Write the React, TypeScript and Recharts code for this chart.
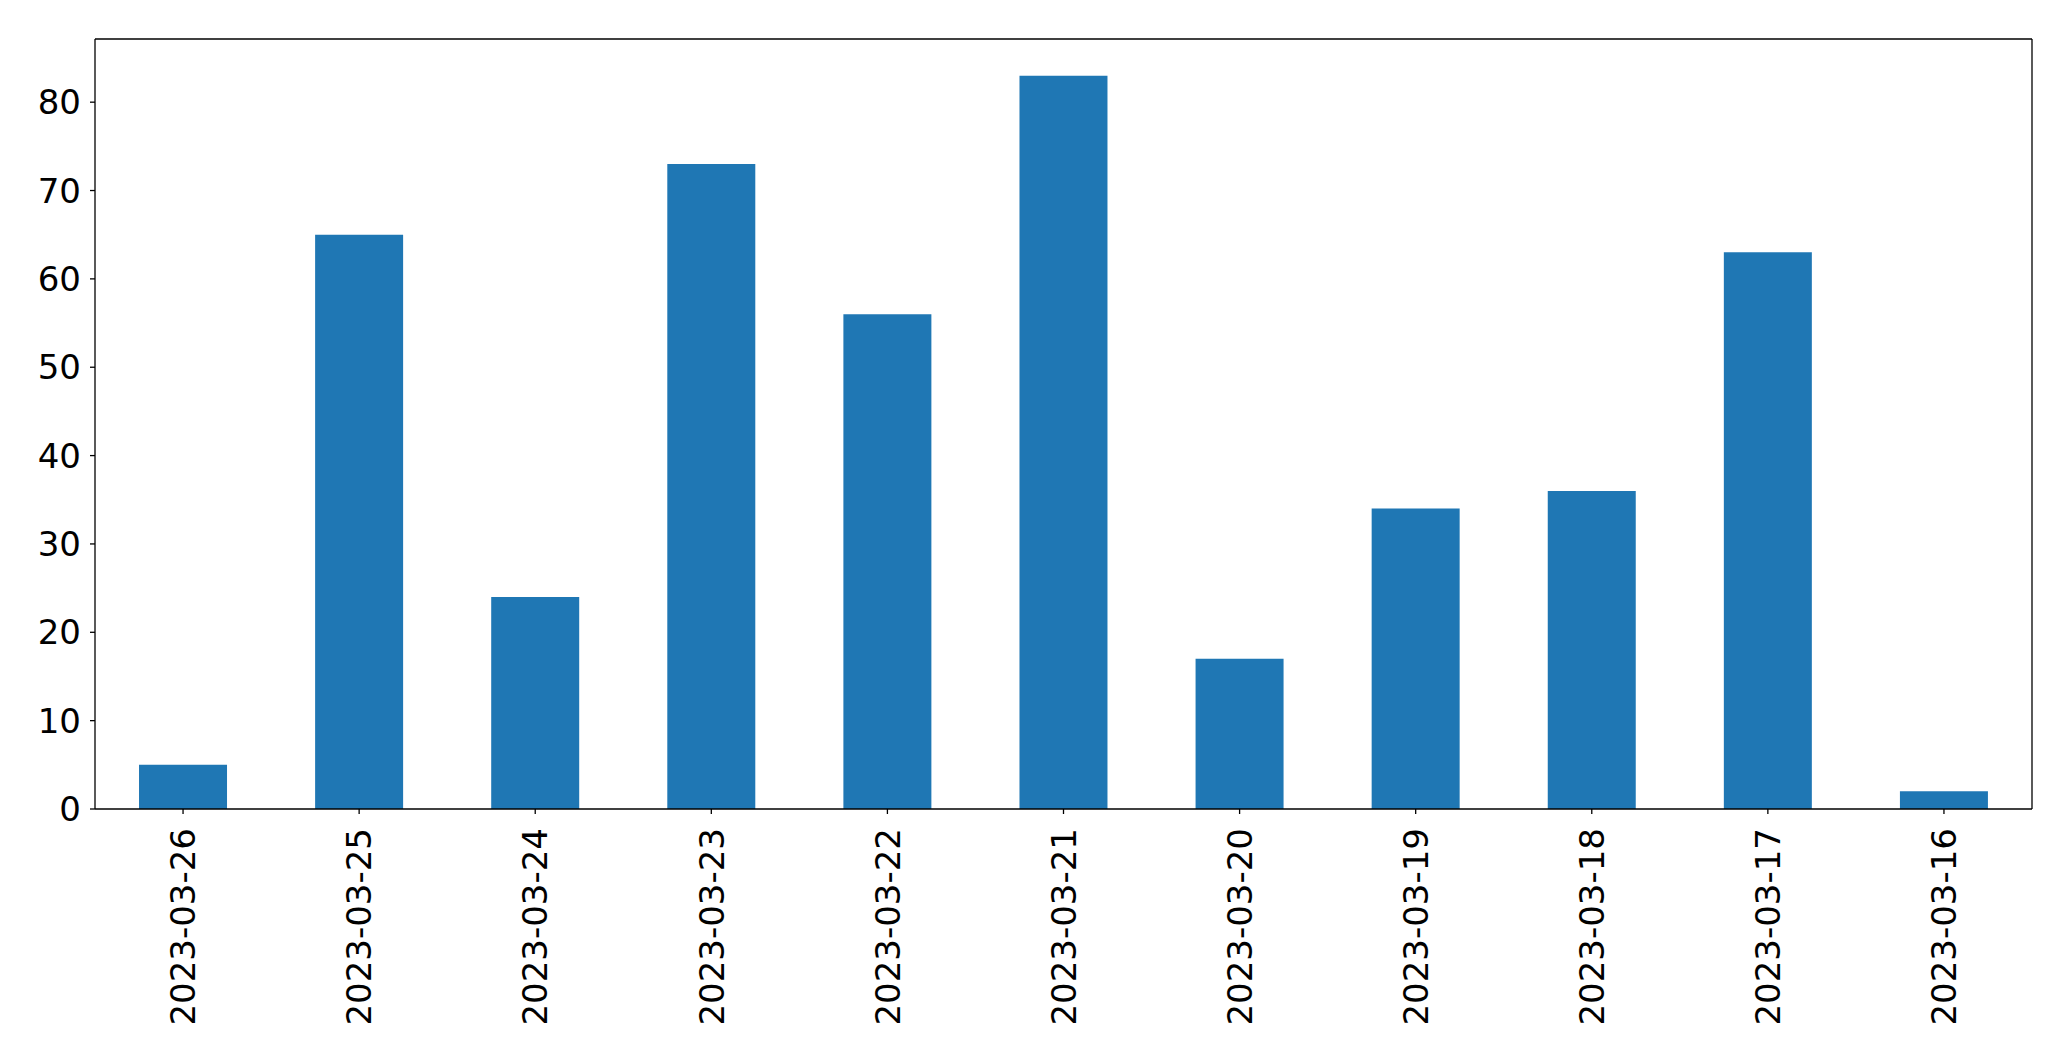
import { Bar, BarChart, XAxis, YAxis } from "recharts";

const dates = [
  "2023-03-26",
  "2023-03-25",
  "2023-03-24",
  "2023-03-23",
  "2023-03-22",
  "2023-03-21",
  "2023-03-20",
  "2023-03-19",
  "2023-03-18",
  "2023-03-17",
  "2023-03-16",
];
const counts = [5, 65, 24, 73, 56, 83, 17, 34, 36, 63, 2];
const yTicks = [0, 10, 20, 30, 40, 50, 60, 70, 80];

const data = dates.map((d, i) => ({ date: d, count: counts[i] }));

const FONT = "'DejaVu Sans', sans-serif";

function DateTick(props: any) {
  const { x, y, payload } = props;
  return (
    <text
      x={x}
      y={y + 12}
      transform={`rotate(-90, ${x}, ${y + 12})`}
      textAnchor="end"
      dy="0.36em"
      fontSize={34}
      fontFamily={FONT}
      fill="#000"
    >
      {payload.value}
    </text>
  );
}

export default function App() {
  return (
    <div style={{ position: "absolute", top: 0, left: 0, background: "#fff" }}>
      <BarChart
        width={2071}
        height={1061}
        data={data}
        margin={{ top: 38, right: 38, left: 0, bottom: 0 }}
        barCategoryGap="25%"
      >
        <XAxis
          dataKey="date"
          height={252}
          interval={0}
          tick={<DateTick />}
          tickSize={5}
          axisLine={{ stroke: "#000", strokeWidth: 1.3 }}
          tickLine={{ stroke: "#000", strokeWidth: 1.3 }}
        />
        <XAxis
          xAxisId="top"
          dataKey="date"
          orientation="top"
          height={1}
          tick={false}
          tickLine={false}
          axisLine={{ stroke: "#000", strokeWidth: 1.3 }}
        />
        <YAxis
          width={95}
          domain={[0, 87.15]}
          ticks={yTicks}
          tickSize={5}
          tickMargin={9}
          tick={{ fontSize: 34, fontFamily: FONT, fill: "#000" }}
          axisLine={{ stroke: "#000", strokeWidth: 1.3 }}
          tickLine={{ stroke: "#000", strokeWidth: 1.3 }}
        />
        <YAxis
          yAxisId="right"
          orientation="right"
          width={1}
          domain={[0, 87.15]}
          tick={false}
          tickLine={false}
          axisLine={{ stroke: "#000", strokeWidth: 1.3 }}
        />
        <Bar dataKey="count" fill="#1f77b4" isAnimationActive={false} />
      </BarChart>
    </div>
  );
}
